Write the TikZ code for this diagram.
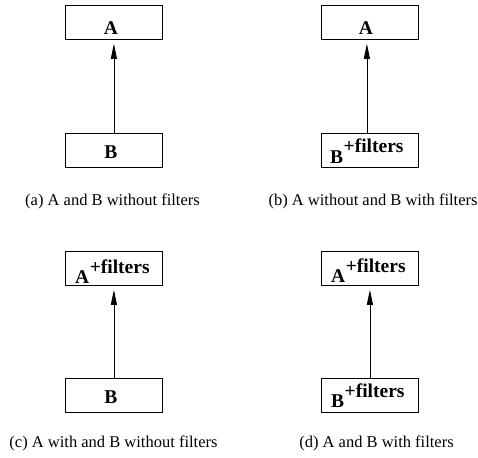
\documentclass[tikz,border=0pt]{standalone}
\usepackage{fontspec}
\setmainfont{Liberation Serif}
\usetikzlibrary{arrows.meta}
\begin{document}
\begin{tikzpicture}[x=1pt,y=-1pt,
  box/.style={draw,line width=0.8pt,minimum width=97pt,minimum height=34pt,inner sep=0pt,anchor=north west},
  lbl/.style={font=\fontsize{19.5}{21}\selectfont\bfseries,inner sep=0pt},
  captext/.style={font=\fontsize{16.5}{18}\selectfont,inner sep=0pt,anchor=base},
  link/.style={-{Triangle[length=15pt,width=6pt]},line width=0.8pt,shorten >=4pt}]
\useasboundingbox (0,0) rectangle (478,457);
\newcommand{\plusf}[1]{#1\kern0.5pt\raisebox{10pt}{+filters}}

% (a) neither has filters
\node[box] (aA) at (65,5) {};
\node[box] (aB) at (65,133) {};
\node[lbl,anchor=base] (aAt) at (111,35) {A};
\node[lbl,anchor=base] (aBt) at (111,158) {B};
\draw[link] (aB) -- (aA);
\node[captext] (acap) at (112.5,205) {(a) A and B without filters};

% (b) only B has filters
\node[box] (bA) at (321,5) {};
\node[box] (bB) at (321,133) {};
\node[lbl,anchor=base] (bAt) at (366,35) {A};
\node[lbl,anchor=base west] (bBt) at (330,163) {\plusf{B}};
\draw[link] ([xshift=-3pt]bB.north) -- ([xshift=-3pt]bA.south);
\node[captext] (bcap) at (373,205) {(b) A without and B with filters};

% (c) only A has filters
\node[box] (cA) at (65,251) {};
\node[box] (cB) at (65,378) {};
\node[lbl,anchor=base west] (cAt) at (75,283) {\plusf{A}};
\node[lbl,anchor=base] (cBt) at (111,403) {B};
\draw[link] (cB) -- (cA);
\node[captext] (ccap) at (113.5,447) {(c) A with and B without filters};

% (d) both have filters
\node[box] (dA) at (321,251) {};
\node[box] (dB) at (321,378) {};
\node[lbl,anchor=base west] (dAt) at (331,282) {\plusf{A}};
\node[lbl,anchor=base west] (dBt) at (331,407) {\plusf{B}};
\draw[link] (dB) -- (dA);
\node[captext] (dcap) at (376.5,447) {(d) A and B with filters};
\end{tikzpicture}
\end{document}
